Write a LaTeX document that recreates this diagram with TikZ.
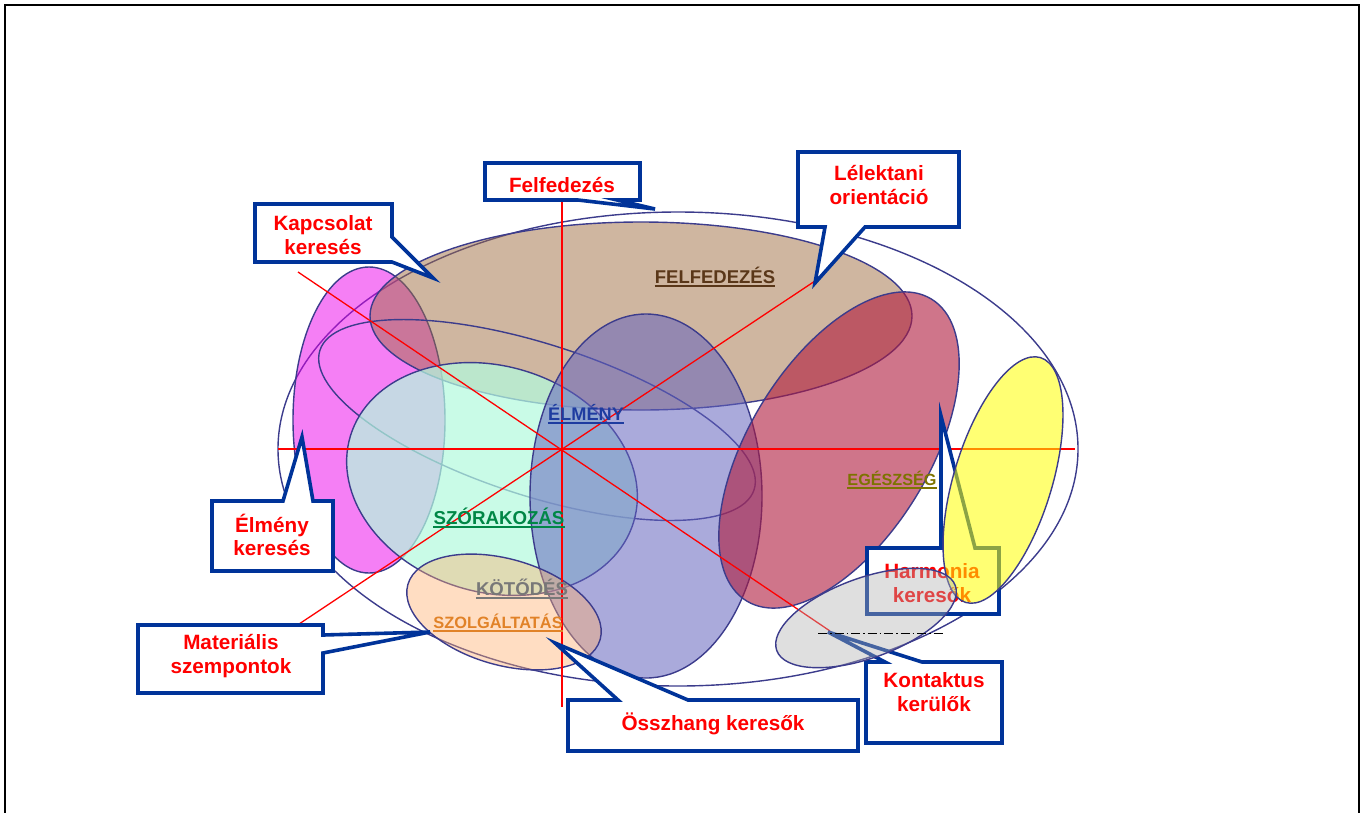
\documentclass[tikz,border=0pt]{standalone}
\usepackage{fontspec}
\setmainfont{Liberation Sans}
\definecolor{edgeblue}{RGB}{60,60,140}
\definecolor{callblue}{RGB}{0,51,153}
\definecolor{magfill}{RGB}{235,0,235}
\definecolor{brownfill}{RGB}{160,110,65}
\definecolor{mintfill}{RGB}{180,250,222}
\definecolor{bluefill}{RGB}{100,100,190}
\definecolor{redfill}{RGB}{175,25,60}
\definecolor{yellowfill}{RGB}{255,255,0}
\definecolor{greyfill}{RGB}{175,175,175}
\definecolor{peachfill}{RGB}{255,175,110}
\definecolor{lblbrown}{RGB}{90,55,25}
\definecolor{lblblue}{RGB}{30,60,160}
\definecolor{lblgreen}{RGB}{0,135,70}
\definecolor{lblgrey}{RGB}{120,120,120}
\definecolor{lblorange}{RGB}{225,130,40}
\definecolor{lblolive}{RGB}{125,115,0}

% underlined label: name, x, y (baseline centre), colour, size, text
\newcommand{\vennlabel}[6]{%
  \node[lbl, text=#4, font=\fontsize{#5}{#5}\selectfont\bfseries] (#1) at (#2,#3) {#6};
  \draw[#4, line width=1.8pt] ([yshift=-2.8pt]#1.base west) -- ([yshift=-2.8pt]#1.base east);}

\begin{document}
\begin{tikzpicture}[x=1pt,y=-1pt,
  venn/.style={draw=edgeblue, line width=1.4pt},
  callout/.style={draw=callblue, line width=3.6pt, fill=white, line join=miter},
  ctext/.style={text=red, font=\fontsize{20.7}{23.5}\selectfont\bfseries, align=center, inner sep=0pt},
  axisline/.style={draw=red, line width=1.3pt},
  lbl/.style={inner sep=0pt, anchor=base}]
\useasboundingbox (0,0) rectangle (1364,812);

% frame
\draw[line width=2pt] (5,830) -- (5,5) -- (1359,5) -- (1359,830);

% outer set
\draw[venn] (678,449) ellipse [x radius=400, y radius=237];

% overlapping sets
\filldraw[venn, fill=magfill, fill opacity=0.5] (369,420) ellipse [x radius=76, y radius=153];
\filldraw[venn, fill=brownfill, fill opacity=0.5] (641,316) ellipse [x radius=271, y radius=94];
\draw[venn, rotate around={-17.8:(537,420)}] (537,420) ellipse [x radius=228, y radius=76];
\filldraw[venn, fill=mintfill, fill opacity=0.72, rotate around={-17:(492,479)}] (492,479) ellipse [x radius=148, y radius=113];
\filldraw[venn, fill=bluefill, fill opacity=0.55] (646,496) ellipse [x radius=116, y radius=182];
\filldraw[venn, fill=redfill, fill opacity=0.6, rotate around={58.5:(839,450)}] (839,450) ellipse [x radius=177, y radius=90];
\filldraw[venn, fill=peachfill, fill opacity=0.42, rotate around={-16:(504,612)}] (504,612) ellipse [x radius=100, y radius=53];

% axes
\draw[axisline] (278,449) -- (1075,449);
\draw[axisline] (562,200) -- (562,707);
\draw[axisline] (298,272) -- (830,631);
\draw[axisline] (290,630) -- (815,281);

% callouts
\draw[callout] (485,163) -- (640,163) -- (640,200) -- (617,200) -- (655,209) -- (578,200) -- (485,200) -- cycle;
\node[ctext] (felf) at (562,185) {Felfedezés};

\draw[callout] (255,204) -- (392,204) -- (392,237) -- (433,278) -- (392,262) -- (255,262) -- cycle;
\node[ctext] (kapcs) at (323,235) {Kapcsolat\\keresés};

\draw[callout] (798,152) -- (959,152) -- (959,227) -- (865,227) -- (815,283) -- (825,227) -- (798,227) -- cycle;
\node[ctext] (lelek) at (879,185) {Lélektani\\orientáció};

\draw[callout] (212,501) -- (283,501) -- (302,437) -- (313,501) -- (333,501) -- (333,571) -- (212,571) -- cycle;
\node[ctext] (elmeny) at (272,535) {Élmény\\keresés};

\draw[callout] (138,625) -- (323,625) -- (323,635) -- (430,632) -- (323,653) -- (323,693) -- (138,693) -- cycle;
\node[ctext] (mater) at (231,656) {Materiális\\szempontok};

\draw[callout] (568,700) -- (618,700) -- (555,643) -- (688,700) -- (858,700) -- (858,751) -- (568,751) -- cycle;
\node[ctext] (osszh) at (713,724) {Összhang keresők};

\draw[callout] (867,548) -- (941,548) -- (941,416) -- (975,548) -- (999,548) -- (999,614) -- (867,614) -- cycle;
\node[ctext] (harm) at (932,583) {Harmonia\\keresők};

\draw[callout] (866,662) -- (885,662) -- (828,632) -- (922,662) -- (1002,662) -- (1002,743) -- (866,743) -- cycle;
\node[ctext] (kont) at (934,692) {Kontaktus\\kerülők};

% sets drawn over the callouts
\filldraw[venn, fill=yellowfill, fill opacity=0.55, rotate around={73:(1003,480)}] (1003,480) ellipse [x radius=128, y radius=49];
\filldraw[venn, fill=greyfill, fill opacity=0.4, rotate around={20:(866,618)}] (866,618) ellipse [x radius=95, y radius=40];

% set labels
\vennlabel{lfelf}{715}{283}{lblbrown}{18.5}{FELFEDEZÉS}
\vennlabel{lelm}{586}{420}{lblblue}{18.2}{ÉLMÉNY}
\vennlabel{lszor}{499}{524}{lblgreen}{18.7}{SZÓRAKOZÁS}
\vennlabel{lkot}{522}{595}{lblgrey}{18.6}{KÖTŐDÉS}
\vennlabel{lszolg}{498}{628}{lblorange}{16.4}{SZOLGÁLTATÁS}
\vennlabel{legesz}{892}{485}{lblolive}{16.2}{EGÉSZSÉG}

% dash-dot marker line
\draw[line width=0.8pt, dash pattern=on 9pt off 3pt on 1.5pt off 3pt] (818,633) -- (943,633);
\end{tikzpicture}
\end{document}
